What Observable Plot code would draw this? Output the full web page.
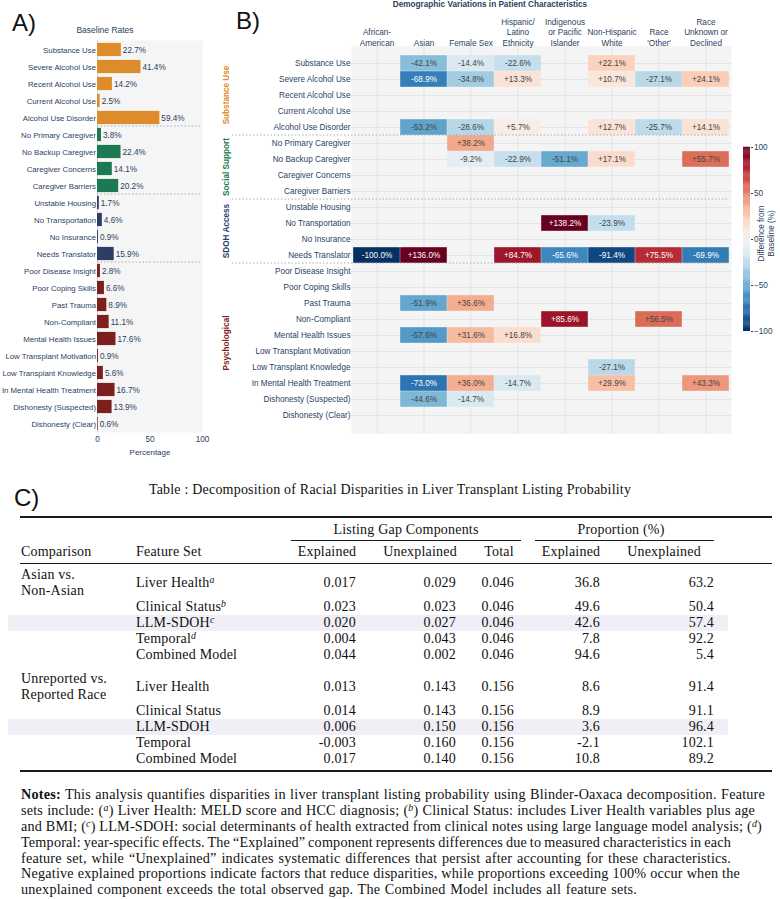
<!DOCTYPE html>
<html><head><meta charset="utf-8">
<script src="https://cdn.jsdelivr.net/npm/d3@7"></script>
<script src="https://cdn.jsdelivr.net/npm/@observablehq/plot@0.6"></script>
<style>
html,body{margin:0;padding:0;background:#fff;}
#page{position:relative;width:780px;height:899px;overflow:hidden;}
.abs{position:absolute;white-space:nowrap;}
.sans{font-family:"Liberation Sans",Arial,Helvetica,sans-serif;color:#2a3f5f;}
.serif{font-family:"Liberation Serif","Times New Roman",serif;color:#111;font-size:14px;line-height:16px;letter-spacing:0.2px;}
.panel{font-family:"Liberation Sans",Arial,sans-serif;font-size:24px;line-height:24px;color:#111;}
.rule{position:absolute;background:#1a1a1a;}
sup{font-size:70%;line-height:0;vertical-align:0.45em;font-style:italic;}
</style></head>
<body><div id="page"></div>
<script>
// ---------------- DATA ----------------
const groups = ["Substance Use", "Social Support", "SDOH Access", "Psychological"];
const groupColors = ["#DE8B2B", "#1B7A52", "#2C3E66", "#7D1F1F"];
const substanceUse = ["Substance Use", "Severe Alcohol Use", "Recent Alcohol Use", "Current Alcohol Use", "Alcohol Use Disorder"];
const socialSupport = ["No Primary Caregiver", "No Backup Caregiver", "Caregiver Concerns", "Caregiver Barriers"];
const sdohAccess = ["Unstable Housing", "No Transportation", "No Insurance", "Needs Translator"];
const psychological = ["Poor Disease Insight", "Poor Coping Skills", "Past Trauma", "Non-Compliant", "Mental Health Issues",
  "Low Transplant Motivation", "Low Transplant Knowledge", "In Mental Health Treatment", "Dishonesty (Suspected)", "Dishonesty (Clear)"];
const groupMembers = [substanceUse, socialSupport, sdohAccess, psychological];

// Panel A: baseline rates (%)
const baselineRates = [22.7, 41.4, 14.2, 2.5, 59.4, 3.8, 22.4, 14.1, 20.2, 1.7, 4.6, 0.9, 15.9,
  2.8, 6.6, 8.9, 11.1, 17.6, 0.9, 5.6, 16.7, 13.9, 0.6];

// Panel B: difference from baseline (%) by demographic
const demographics = ["African-American", "Asian", "Female Sex", "Hispanic/Latino Ethnicity",
  "Indigenous or Pacific Islander", "Non-Hispanic White", "Race 'Other'", "Race Unknown or Declined"];
const demographicLabels = ["African-\nAmerican", "Asian", "Female Sex", "Hispanic/\nLatino\nEthnicity",
  "Indigenous\nor Pacific\nIslander", "Non-Hispanic\nWhite", "Race\n'Other'", "Race\nUnknown or\nDeclined"];
const _ = null;
const differences = [
  [_, -42.1, -14.4, -22.6, _, 22.1, _, _],          // Substance Use
  [_, -68.9, -34.8, 13.3, _, 10.7, -27.1, 24.1],    // Severe Alcohol Use
  [_, _, _, _, _, _, _, _],                         // Recent Alcohol Use
  [_, _, _, _, _, _, _, _],                         // Current Alcohol Use
  [_, -53.2, -28.6, 5.7, _, 12.7, -25.7, 14.1],     // Alcohol Use Disorder
  [_, _, 38.2, _, _, _, _, _],                      // No Primary Caregiver
  [_, _, -9.2, -22.9, -51.1, 17.1, _, 55.7],        // No Backup Caregiver
  [_, _, _, _, _, _, _, _],                         // Caregiver Concerns
  [_, _, _, _, _, _, _, _],                         // Caregiver Barriers
  [_, _, _, _, _, _, _, _],                         // Unstable Housing
  [_, _, _, _, 138.2, -23.9, _, _],                 // No Transportation
  [_, _, _, _, _, _, _, _],                         // No Insurance
  [-100.0, 136.0, _, 84.7, -65.6, -91.4, 75.5, -69.9], // Needs Translator
  [_, _, _, _, _, _, _, _],                         // Poor Disease Insight
  [_, _, _, _, _, _, _, _],                         // Poor Coping Skills
  [_, -51.9, 36.6, _, _, _, _, _],                  // Past Trauma
  [_, _, _, _, 85.6, _, 56.5, _],                   // Non-Compliant
  [_, -57.6, 31.6, 16.8, _, _, _, _],               // Mental Health Issues
  [_, _, _, _, _, _, _, _],                         // Low Transplant Motivation
  [_, _, _, _, _, -27.1, _, _],                     // Low Transplant Knowledge
  [_, -73.0, 36.0, -14.7, _, 29.9, _, 43.3],        // In Mental Health Treatment
  [_, -44.6, -14.7, _, _, _, _, _],                 // Dishonesty (Suspected)
  [_, _, _, _, _, _, _, _]                          // Dishonesty (Clear)
];
const colorbarTicks = [-100, -50, 0, 50, 100];

// Panel C: table
const comparisons = [["Asian vs.", "Non-Asian"], ["Unreported vs.", "Reported Race"]];
const featureSets = ["Liver Health", "Clinical Status", "LLM-SDOH", "Temporal", "Combined Model"];
const featureNotes = ["a", "b", "c", "d", ""];
const explained = [[0.017, 0.023, 0.020, 0.004, 0.044], [0.013, 0.014, 0.006, -0.003, 0.017]];
const unexplained = [[0.029, 0.023, 0.027, 0.043, 0.002], [0.143, 0.143, 0.150, 0.160, 0.140]];
const totalGap = [[0.046, 0.046, 0.046, 0.046, 0.046], [0.156, 0.156, 0.156, 0.156, 0.156]];
const propExplained = [[36.8, 49.6, 42.6, 7.8, 94.6], [8.6, 8.9, 3.6, -2.1, 10.8]];
const propUnexplained = [[63.2, 50.4, 57.4, 92.2, 5.4], [91.4, 91.1, 96.4, 102.1, 89.2]];
const noteLines = [
  "<b>Notes:</b> This analysis quantifies disparities in liver transplant listing probability using Blinder-Oaxaca decomposition. Feature",
  "sets include: (<sup>a</sup>) Liver Health: MELD score and HCC diagnosis; (<sup>b</sup>) Clinical Status: includes Liver Health variables plus age",
  "and BMI; (<sup>c</sup>) LLM-SDOH: social determinants of health extracted from clinical notes using large language model analysis; (<sup>d</sup>)",
  "Temporal: year-specific effects. The \u201cExplained\u201d component represents differences due to measured characteristics in each",
  "feature set, while \u201cUnexplained\u201d indicates systematic differences that persist after accounting for these characteristics.",
  "Negative explained proportions indicate factors that reduce disparities, while proportions exceeding 100% occur when the",
  "unexplained component exceeds the total observed gap. The Combined Model includes all feature sets."
];

// ---------------- LAYOUT HELPERS ----------------
const page = document.getElementById("page");
function addDiv(cls, html, css) {
  const d = document.createElement("div");
  d.className = "abs " + cls;
  d.innerHTML = html;
  Object.assign(d.style, css);
  page.appendChild(d);
  return d;
}
function place(el, left, top) { el.style.position = "absolute"; el.style.left = left + "px"; el.style.top = top + "px"; page.appendChild(el); }

const features = groupMembers.flat();
const groupOf = features.map(f => groups[groupMembers.findIndex(g => g.includes(f))]);
const labelColor = "#2a3f5f";
const fontFam = "'Liberation Sans', Arial, Helvetica, sans-serif";

// ---------------- PANEL A ----------------
const baseData = features.map((f, i) => ({feature: f, value: baselineRates[i], group: groupOf[i]}));
const plotA = Plot.plot({
  width: 230, height: 465,
  marginLeft: 97, marginRight: 28, marginTop: 40, marginBottom: 33,
  style: {fontFamily: fontFam, fontSize: "8.2px", color: labelColor, background: "none"},
  x: {domain: [0, 100], ticks: [0, 50, 100], tickSize: 0, tickPadding: 4, label: null},
  y: {domain: features, padding: 0, axis: null},
  color: {domain: groups, range: groupColors},
  marks: [
    Plot.frame({fill: "#f5f5f5", stroke: null}),
    Plot.ruleX([0], {stroke: "#cfd3da"}),
    Plot.axisY({tickSize: 0, tickPadding: 1.5, fontSize: 7.8, label: null}),
    Plot.barX(baseData, {x: "value", y: "feature", fill: "group", insetTop: 1.9, insetBottom: 1.9}),
    Plot.text(baseData, {x: "value", y: "feature", text: d => d.value.toFixed(1) + "%", textAnchor: "start", dx: 1.5, fill: labelColor})
  ]
});
place(plotA, 0, 0);
{
  const ys = plotA.scale("y"), xs = plotA.scale("x");
  const svg = d3.select(plotA);
  groupMembers.slice(1).forEach(g => {
    const y = ys.apply(g[0]);
    svg.append("line").attr("x1", xs.apply(0)).attr("x2", xs.apply(100)).attr("y1", y).attr("y2", y)
      .attr("stroke", "#9a9a9a").attr("stroke-width", 0.8).attr("stroke-dasharray", "1.5,2");
  });
}
addDiv("sans", "Baseline Rates", {left: "105px", top: "25px", fontSize: "8.5px", lineHeight: "10px", transform: "translateX(-50%)"});
addDiv("sans", "Percentage", {left: "150px", top: "448px", fontSize: "8px", lineHeight: "10px", transform: "translateX(-50%)"});

// ---------------- PANEL B ----------------
const cellData = [];
features.forEach((f, i) => demographics.forEach((d, j) => {
  const v = differences[i][j];
  if (v !== null) cellData.push({feature: f, demo: d, value: v});
}));
const fmtDiff = v => (v > 0 ? "+" : "") + v.toFixed(1) + "%";
const colorOpts = {type: "linear", scheme: "RdBu", reverse: true, domain: [-100, 100], clamp: true};
const headerData = demographics.map((d, j) => ({demo: d, label: demographicLabels[j]}));

const plotB = Plot.plot({
  width: 575, height: 450,
  marginLeft: 146, marginRight: 49, marginTop: 45.6, marginBottom: 16.6,
  style: {fontFamily: fontFam, fontSize: "8.2px", color: labelColor, background: "none"},
  x: {domain: demographics, padding: 0, axis: null},
  y: {domain: features, padding: 0, tickSize: 0, tickPadding: 1, label: null},
  color: colorOpts,
  marks: [
    Plot.frame({fill: "#f4f4f4", stroke: null}),
    Plot.gridX({stroke: "#e4e4e4", strokeOpacity: 1, strokeWidth: 1}),
    Plot.gridY({stroke: "#e4e4e4", strokeOpacity: 1, strokeWidth: 1}),
    Plot.cell(cellData, {x: "demo", y: "feature", fill: "value", inset: 0.2}),
    Plot.text(cellData.filter(d => Math.abs(d.value) < 60), {x: "demo", y: "feature", text: d => fmtDiff(d.value), fill: "#444"}),
    Plot.text(cellData.filter(d => Math.abs(d.value) >= 60), {x: "demo", y: "feature", text: d => fmtDiff(d.value), fill: "white"}),
    Plot.text(headerData, {x: "demo", text: "label", frameAnchor: "top", lineAnchor: "bottom", dy: 0, lineHeight: 1.3, fill: labelColor})
  ]
});
place(plotB, 205, 0);
{
  const ys = plotB.scale("y"), xs = plotB.scale("x");
  const svg = d3.select(plotB);
  const xRight = xs.apply(demographics[demographics.length - 1]) + xs.bandwidth;
  groupMembers.slice(1).forEach(g => {
    const y = ys.apply(g[0]);
    svg.append("line").attr("x1", 27).attr("x2", xRight).attr("y1", y).attr("y2", y)
      .attr("stroke", "#9a9a9a").attr("stroke-width", 0.8).attr("stroke-dasharray", "1.5,2");
  });
  groupMembers.forEach((g, k) => {
    const yc = ys.apply(g[0]) + g.length * ys.step / 2;
    svg.append("text").attr("transform", `translate(21,${yc}) rotate(-90)`)
      .attr("text-anchor", "middle").attr("dy", "0.35em")
      .attr("font-weight", "bold").attr("font-size", "8.2px").attr("fill", groupColors[k]).text(groups[k]);
  });
}
addDiv("sans", "Demographic Variations in Patient Characteristics",
  {left: "490px", top: "0px", fontSize: "8.2px", lineHeight: "9px", fontWeight: "bold", transform: "translateX(-50%)"});

// Colorbar
const cbSteps = d3.range(-100, 100, 1);
const colorbar = Plot.plot({
  width: 45, height: 200,
  marginTop: 7, marginBottom: 9, marginLeft: 8, marginRight: 30,
  style: {fontFamily: fontFam, fontSize: "8.2px", color: labelColor, background: "none"},
  x: {domain: [0, 1], axis: null},
  y: {domain: [-100, 100], ticks: colorbarTicks, tickSize: 2, tickPadding: 1.5, axis: "right", label: null},
  color: colorOpts,
  marks: [
    Plot.rect(cbSteps, {x1: 0, x2: 1, y1: d => d, y2: d => d + 1.3, fill: d => d + 0.5}),
    Plot.text(["Difference from\nBaseline (%)"], {frameAnchor: "middle", rotate: -90, dx: 19, dy: -6, fill: labelColor, lineHeight: 1.15})
  ]
});
place(colorbar, 735, 140);

// Panel labels
addDiv("panel", "A)", {left: "12px", top: "11px"});
addDiv("panel", "B)", {left: "236px", top: "9px"});
addDiv("panel", "C)", {left: "14px", top: "486px"});

// ---------------- PANEL C (table) ----------------
addDiv("serif", "Table : Decomposition of Racial Disparities in Liver Transplant Listing Probability",
  {left: "390px", top: "482px", transform: "translateX(-50%)"});
function hrule(x1, x2, y, t) { addDiv("rule", "", {left: x1 + "px", width: (x2 - x1) + "px", top: (y - t / 2) + "px", height: t + "px"}); }
hrule(20, 772, 517, 1.5);
hrule(291, 521, 540, 0.7);
hrule(535, 714, 540, 0.7);
hrule(20, 772, 563, 0.8);
hrule(20, 772, 771, 1.5);

const colRights = [356, 456, 514, 600, 714];
const headerCenters = [327, 420, 499, 571, 664];
const headers = ["Explained", "Unexplained", "Total", "Explained", "Unexplained"];
addDiv("serif", "Listing Gap Components", {left: "406px", top: "522px", transform: "translateX(-50%)"});
addDiv("serif", "Proportion (%)", {left: "621px", top: "522px", transform: "translateX(-50%)"});
addDiv("serif", "Comparison", {left: "21px", top: "544px"});
addDiv("serif", "Feature Set", {left: "136px", top: "544px"});
headers.forEach((h, i) => addDiv("serif", h, {left: headerCenters[i] + "px", top: "544px", transform: "translateX(-50%)"}));

const tableTop = 566.7, groupStride = 104.6;
comparisons.forEach((comp, g) => {
  const gStart = tableTop + g * groupStride;
  featureSets.forEach((fs, k) => {
    const cy = k === 0 ? gStart + 16 : gStart + 40 + 16 * (k - 1);
    if (fs === "LLM-SDOH") addDiv("", "", {left: "7.5px", width: "720px", top: (cy - 8) + "px", height: "16px", background: "#efeff5"});
  });
});
comparisons.forEach((comp, g) => {
  const gStart = tableTop + g * groupStride;
  addDiv("serif", comp[0], {left: "21px", top: (gStart + 16 - 8 - 8) + "px"});
  addDiv("serif", comp[1], {left: "21px", top: (gStart + 16 + 8 - 8) + "px"});
  featureSets.forEach((fs, k) => {
    const cy = k === 0 ? gStart + 16 : gStart + 40 + 16 * (k - 1);
    const top = (cy - 8) + "px";
    const note = g === 0 && featureNotes[k] ? `<sup>${featureNotes[k]}</sup>` : "";
    addDiv("serif", fs + note, {left: "136px", top});
    const vals = [explained[g][k].toFixed(3), unexplained[g][k].toFixed(3), totalGap[g][k].toFixed(3),
      propExplained[g][k].toFixed(1), propUnexplained[g][k].toFixed(1)];
    vals.forEach((v, i) => addDiv("serif", v, {left: colRights[i] + "px", top, transform: "translateX(-100%)"}));
  });
});

// Notes (ragged right, each line fitted to its measured end in the reference)
const noteRights = [765, 755, 762, 731, 731, 740, 637];
const noteDivs = noteLines.map((ln, i) => addDiv("serif", ln,
  {left: "21px", top: (795.3 + 15.8 * i - 7.9) + "px", fontSize: "14px", lineHeight: "15.8px"}));
let sumW = 0, sumT = 0;
noteDivs.forEach((d, i) => { sumW += d.getBoundingClientRect().width; sumT += noteRights[i] - 21; });
const noteFont = Math.max(12.5, Math.min(14.2, 14 * sumT / sumW));
noteDivs.forEach((d, i) => {
  d.style.fontSize = noteFont + "px";
  const w = d.getBoundingClientRect().width;
  const spaces = (d.textContent.match(/ /g) || []).length;
  if (spaces > 0) d.style.wordSpacing = ((noteRights[i] - 21 - w) / spaces) + "px";
});
</script></body></html>
